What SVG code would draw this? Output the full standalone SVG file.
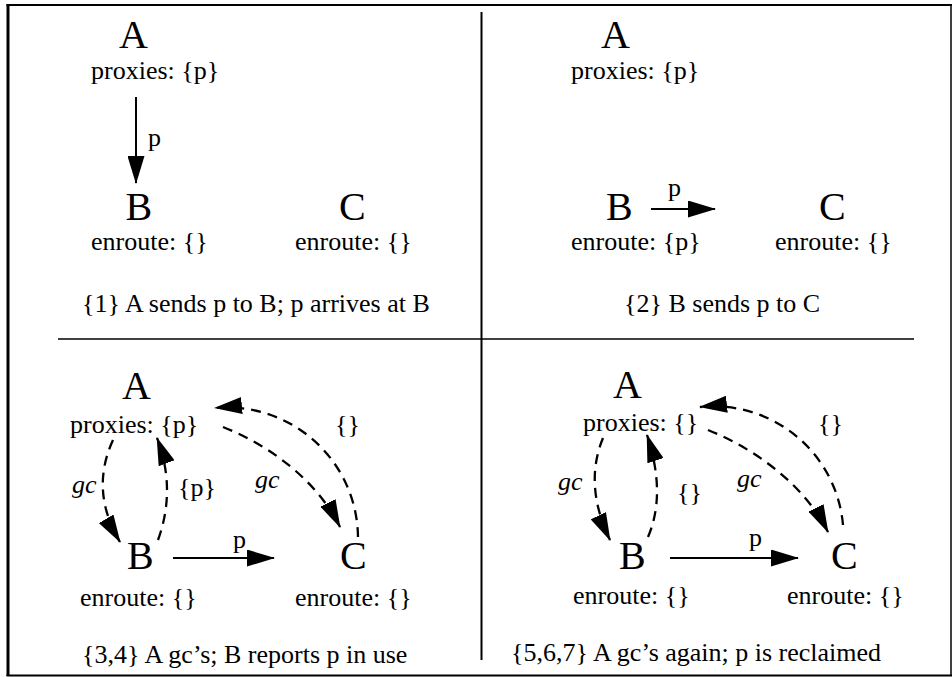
<svg xmlns="http://www.w3.org/2000/svg" width="952" height="677" viewBox="0 0 952 677">
<style>
text{font-family:'Liberation Serif','Times New Roman',serif;fill:#000}
.big{font-size:40px}
.lbl{font-size:26px}
.it{font-size:26px;font-style:italic}
.solid{fill:none;stroke:#000;stroke-width:2}
.dash{fill:none;stroke:#000;stroke-width:2.3;stroke-dasharray:10 7}
.frame{stroke:#000;fill:none}
</style>
<defs>
<marker id="ah" markerUnits="userSpaceOnUse" markerWidth="28" markerHeight="17" refX="27" refY="8.5" orient="auto"><path d="M0,0 L28,8.5 L0,17 z" fill="#000"/></marker>
</defs>
<rect width="952" height="677" fill="#fff"/>
<g id="frame">
<line class="frame" x1="8" y1="4" x2="8" y2="676" stroke-width="3"/>
<line class="frame" x1="6.5" y1="5" x2="952" y2="5" stroke-width="2"/>
<line class="frame" x1="6.5" y1="675.5" x2="952" y2="675.5" stroke-width="2"/>
<line class="frame" x1="951" y1="4" x2="951" y2="676" stroke-width="1.5"/>
<line class="frame" x1="481.5" y1="12" x2="481.5" y2="660" stroke-width="2" stroke="#333"/>
<line class="frame" x1="58" y1="339" x2="914" y2="339" stroke-width="1.5"/>
</g>
<!-- Panel 1 -->
<g id="p1-A"><text class="big" x="119" y="48">A</text><text class="lbl" x="91" y="79">proxies: {p}</text></g>
<g id="p1-B"><text class="big" x="125.5" y="220">B</text><text class="lbl" x="91" y="250">enroute: {}</text></g>
<g id="p1-C"><text class="big" x="339" y="220">C</text><text class="lbl" x="295" y="250">enroute: {}</text></g>
<text class="lbl" x="82" y="312">{1} A sends p to B; p arrives at B</text>
<!-- Panel 2 -->
<g id="p2-A"><text class="big" x="601" y="48">A</text><text class="lbl" x="571" y="79">proxies: {p}</text></g>
<g id="p2-B"><text class="big" x="606" y="220">B</text><text class="lbl" x="571" y="250">enroute: {p}</text></g>
<g id="p2-C"><text class="big" x="819" y="220">C</text><text class="lbl" x="775" y="250">enroute: {}</text></g>
<text class="lbl" x="624" y="312">{2} B sends p to C</text>
<!-- Panel 3 -->
<g id="p3-A"><text class="big" x="122" y="399">A</text><text class="lbl" x="70" y="433">proxies: {p}</text></g>
<g id="p3-B"><text class="big" x="127" y="569">B</text><text class="lbl" x="80" y="606">enroute: {}</text></g>
<g id="p3-C"><text class="big" x="340" y="569">C</text><text class="lbl" x="295" y="606">enroute: {}</text></g>
<text class="lbl" x="82" y="663">{3,4} A gc’s; B reports p in use</text>
<!-- Panel 4 -->
<g id="p4-A"><text class="big" x="613" y="398">A</text><text class="lbl" x="583" y="431">proxies: {}</text></g>
<g id="p4-B"><text class="big" x="619" y="569">B</text><text class="lbl" x="573" y="604">enroute: {}</text></g>
<g id="p4-C"><text class="big" x="831" y="569">C</text><text class="lbl" x="787" y="604">enroute: {}</text></g>
<text class="lbl" x="511" y="661">{5,6,7} A gc’s again; p is reclaimed</text>
<g id="edge-labels">
<text class="lbl" x="148" y="146">p</text>
<text class="lbl" x="668" y="196">p</text>
<text class="lbl" x="233" y="548">p</text>
<text class="it" x="72" y="493">gc</text>
<text class="lbl" x="178" y="496">{p}</text>
<text class="it" x="255" y="488">gc</text>
<text class="lbl" x="335" y="433">{}</text>
<text class="lbl" x="749" y="546">p</text>
<text class="it" x="558" y="490">gc</text>
<text class="lbl" x="677" y="501">{}</text>
<text class="it" x="737" y="487">gc</text>
<text class="lbl" x="818" y="432">{}</text>
</g>
<g id="connectors">
<path class="solid" d="M136 97 L136 183" marker-end="url(#ah)"/>
<path class="solid" d="M651 209 L715 209" marker-end="url(#ah)"/>
<path class="solid" d="M173 558 L274 558" marker-end="url(#ah)"/>
<path class="solid" d="M670 558 L798 558" marker-end="url(#ah)"/>
<path class="dash" d="M113 440 Q89.5 491 120 542" marker-end="url(#ah)"/>
<path class="dash" d="M158 540 Q176.5 489 157 438" marker-end="url(#ah)"/>
<path class="dash" d="M223 427 C273 447 317.5 482 340 527" marker-end="url(#ah)"/>
<path class="dash" d="M358 537 A131 131 0 0 0 215 408" marker-end="url(#ah)"/>
<path class="dash" d="M603 438 Q583.5 485 610 540" marker-end="url(#ah)"/>
<path class="dash" d="M648 537 Q666.5 494 647 435" marker-end="url(#ah)"/>
<path class="dash" d="M708 430 C758 450 805.5 487 828 532" marker-end="url(#ah)"/>
<path class="dash" d="M843 525 A130 130 0 0 0 700 407" marker-end="url(#ah)"/>
</g>
</svg>
